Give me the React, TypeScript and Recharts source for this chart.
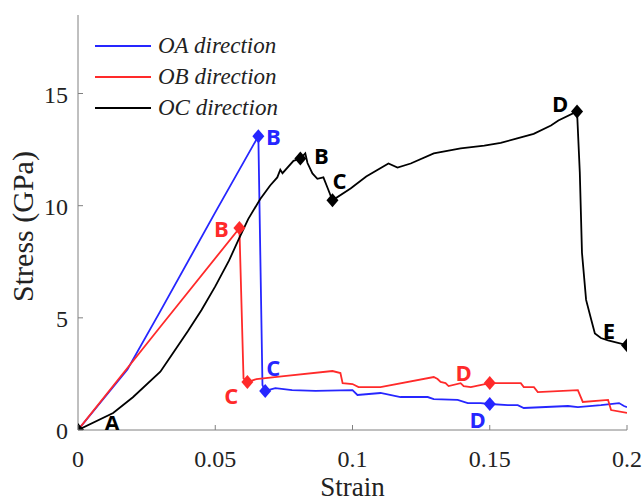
import { ComposedChart, Line, Scatter, XAxis, YAxis, Legend, Label } from "recharts";

// OA direction (blue)
const oaStrain = [0, 0.009, 0.018, 0.03, 0.05, 0.0657, 0.0672, 0.0682, 0.0719, 0.078, 0.0865, 0.1, 0.1018, 0.1102, 0.1175, 0.1274, 0.1296, 0.1383, 0.142, 0.1467, 0.15, 0.1566, 0.1602, 0.1624, 0.1785, 0.1821, 0.1905, 0.1971, 0.1989, 0.2];
const oaStress = [0, 1.35, 2.7, 5.3, 9.7, 13.1, 2.0, 1.74, 1.87, 1.78, 1.74, 1.78, 1.56, 1.65, 1.47, 1.47, 1.38, 1.34, 1.2, 1.2, 1.16, 1.11, 1.11, 0.98, 1.07, 1.02, 1.11, 1.2, 1.07, 1.02];

// OB direction (red)
const obStrain = [0, 0.03, 0.0588, 0.0603, 0.0617, 0.065, 0.075, 0.0927, 0.0956, 0.0964, 0.1, 0.1022, 0.1102, 0.1296, 0.131, 0.1321, 0.1339, 0.135, 0.1394, 0.1405, 0.1431, 0.15, 0.1566, 0.1613, 0.1624, 0.1661, 0.1675, 0.1821, 0.1839, 0.1931, 0.1942, 0.2];
const obStress = [0, 4.6, 9.0, 2.3, 2.14, 2.27, 2.4, 2.63, 2.54, 2.09, 2.05, 1.91, 1.91, 2.36, 2.27, 2.14, 2.09, 1.96, 2.09, 1.96, 1.91, 2.09, 2.09, 2.09, 1.91, 1.91, 1.69, 1.78, 1.25, 1.34, 0.89, 0.76];

// OC direction (black)
const ocStrain = [0, 0.0128, 0.02, 0.03, 0.035, 0.04, 0.045, 0.05, 0.055, 0.0584, 0.062, 0.0664, 0.07, 0.0726, 0.0737, 0.0745, 0.0785, 0.081, 0.0828, 0.0836, 0.0854, 0.0872, 0.0894, 0.0909, 0.0927, 0.0993, 0.105, 0.1131, 0.1164, 0.1212, 0.1296, 0.1394, 0.148, 0.154, 0.16, 0.166, 0.1723, 0.175, 0.1818, 0.1828, 0.1836, 0.1851, 0.187, 0.1883, 0.1905, 0.1931, 0.2];
const ocStress = [0, 0.76, 1.46, 2.6, 3.5, 4.4, 5.35, 6.4, 7.55, 8.46, 9.4, 10.3, 10.9, 11.26, 11.6, 11.45, 12.0, 12.1, 12.33, 11.9, 11.44, 11.2, 11.26, 10.8, 10.24, 10.77, 11.3, 11.88, 11.7, 11.88, 12.33, 12.55, 12.68, 12.8, 13.0, 13.2, 13.57, 13.8, 14.2, 11.5, 7.9, 5.8, 4.9, 4.3, 4.1, 4.0, 3.78];

// marked points (strain value of each, looked up in the series)
const oaKeyStrain = [0.0657, 0.0682, 0.15];
const oaKeyNames = ["B", "C", "D"];
const obKeyStrain = [0.0588, 0.0617, 0.15];
const obKeyNames = ["B", "C", "D"];
const ocKeyStrain = [0, 0.081, 0.0927, 0.1818, 0.2];
const ocKeyNames = ["A", "B", "C", "D", "E"];

const strainTicks = [0, 0.05, 0.1, 0.15, 0.2];
const stressTicks = [0, 5, 10, 15];
const seriesNames = ["OA direction", "OB direction", "OC direction"];

const BLUE = "#2626ff";
const RED = "#ff2a2a";
const BLACK = "#000000";
const FRAME = "#808080";
const TICK_LEN = 5;
const SERIF = "'Liberation Serif', 'Times New Roman', serif";

const colors = [BLUE, RED, BLACK];

// text offsets of the point labels, relative to the marker
const labelShift: Record<string, [number, number]> = {
  "OA-B": [15, 0], "OA-C": [8, -24], "OA-D": [-12, 15],
  "OB-B": [-18, 0], "OB-C": [-16, 13], "OB-D": [-26, -11],
  "OC-A": [34, -8], "OC-B": [21, -4], "OC-C": [7, -20], "OC-D": [-17, -8], "OC-E": [-18, -15],
};

const rows = (s: number[], v: number[]) => s.map((x, i) => ({ strain: x, stress: v[i] }));
const keyRows = (tag: string, color: string, s: number[], v: number[], ks: number[], names: string[]) =>
  ks.map((k, i) => ({ strain: k, stress: v[s.indexOf(k)], name: names[i], tag, color }));

const oaData = rows(oaStrain, oaStress);
const obData = rows(obStrain, obStress);
const ocData = rows(ocStrain, ocStress);
const oaKeys = keyRows("OA", BLUE, oaStrain, oaStress, oaKeyStrain, oaKeyNames);
const obKeys = keyRows("OB", RED, obStrain, obStress, obKeyStrain, obKeyNames);
const ocKeys = keyRows("OC", BLACK, ocStrain, ocStress, ocKeyStrain, ocKeyNames);

const Marker = (props: any) => {
  const { cx, cy, payload } = props;
  const [dx, dy] = labelShift[`${payload.tag}-${payload.name}`] || [12, 0];
  return (
    <g>
      <polygon points={`${cx},${cy - 7} ${cx + 6},${cy} ${cx},${cy + 7} ${cx - 6},${cy}`} fill={payload.color} />
      <text x={cx + dx} y={cy + dy} textAnchor="middle" dominantBaseline="central"
        fontFamily="'Open Sans', sans-serif" fontWeight={700} fontSize={22} fill={payload.color}>
        {payload.name}
      </text>
    </g>
  );
};

const BottomTick = ({ x, y, payload }: any) => (
  <g>
    <line x1={x} x2={x} y1={y} y2={y - TICK_LEN} stroke={FRAME} />
    <text x={x} y={y + 37} textAnchor="middle" fontFamily={SERIF} fontSize={24} fill="#222">{String(payload.value)}</text>
  </g>
);
const LeftTick = ({ x, y, payload }: any) => (
  <g>
    <line x1={x} x2={x + TICK_LEN} y1={y} y2={y} stroke={FRAME} />
    <text x={x - 10} y={y + 9} textAnchor="end" fontFamily={SERIF} fontSize={24} fill="#222">{String(payload.value)}</text>
  </g>
);
const TopTick = ({ x, y }: any) => <line x1={x} x2={x} y1={y} y2={y + TICK_LEN} stroke={FRAME} />;
const RightTick = ({ x, y }: any) => <line x1={x} x2={x - TICK_LEN} y1={y} y2={y} stroke={FRAME} />;

const renderLegend = () => (
  <div>
    {seriesNames.map((n, i) => (
      <div key={n} style={{ display: "flex", alignItems: "center", height: 31 }}>
        <svg width={56} height={4} style={{ display: "block" }}>
          <line x1={0} x2={56} y1={2} y2={2} stroke={colors[i]} strokeWidth={2} />
        </svg>
        <span style={{ marginLeft: 7, fontFamily: SERIF, fontStyle: "italic", fontSize: 23, color: "#222", lineHeight: 1 }}>{n}</span>
      </div>
    ))}
  </div>
);

export default function App() {
  return (
    <div style={{ position: "absolute", left: 0, top: 0, width: 644, height: 503, background: "#fff" }}>
      <ComposedChart width={644} height={503} margin={{ top: 15, right: 17, bottom: 0, left: 0 }}>
        <XAxis dataKey="strain" type="number" domain={[0, 0.2]} ticks={strainTicks} interval={0}
          height={73} stroke={FRAME} tickSize={0} tickMargin={0} tick={<BottomTick />} allowDataOverflow>
          <Label content={({ viewBox }: any) => (
            <text x={viewBox.x + viewBox.width / 2} y={viewBox.y + 66} textAnchor="middle"
              fontFamily={SERIF} fontSize={27} fill="#222">Strain</text>
          )} />
        </XAxis>
        <XAxis xAxisId="top" orientation="top" dataKey="strain" type="number" domain={[0, 0.2]} ticks={strainTicks}
          interval={0} height={0} stroke={FRAME} tickSize={0} tickMargin={0} tick={<TopTick />} allowDataOverflow />
        <YAxis type="number" domain={[0, 18.5]} ticks={stressTicks} interval={0} width={78} stroke={FRAME}
          tickSize={0} tickMargin={0} tick={<LeftTick />} allowDataOverflow>
          <Label content={({ viewBox }: any) => {
            const cy = viewBox.y + viewBox.height / 2 + 4;
            return (
              <text x={22} y={cy} transform={`rotate(-90, 22, ${cy})`} textAnchor="middle" dominantBaseline="central"
                fontFamily={SERIF} fontSize={30} fill="#222">Stress (GPa)</text>
            );
          }} />
        </YAxis>
        <YAxis yAxisId="right" orientation="right" type="number" domain={[0, 18.5]} ticks={stressTicks} interval={0}
          width={0} stroke={FRAME} tickSize={0} tickMargin={0} tick={<RightTick />} allowDataOverflow />
        <Legend content={renderLegend} layout="vertical" align="center" verticalAlign="middle"
          wrapperStyle={{ left: 95, top: 30, width: "auto" }} />
        <Line data={oaData} dataKey="stress" type="linear" stroke={BLUE} strokeWidth={1.8} dot={false} isAnimationActive={false} />
        <Line data={obData} dataKey="stress" type="linear" stroke={RED} strokeWidth={1.8} dot={false} isAnimationActive={false} />
        <Line data={ocData} dataKey="stress" type="linear" stroke={BLACK} strokeWidth={1.8} dot={false} isAnimationActive={false} />
        <Scatter data={oaKeys} dataKey="stress" shape={Marker} legendType="none" isAnimationActive={false} />
        <Scatter data={obKeys} dataKey="stress" shape={Marker} legendType="none" isAnimationActive={false} />
        <Scatter data={ocKeys} dataKey="stress" shape={Marker} legendType="none" isAnimationActive={false} />
      </ComposedChart>
    </div>
  );
}
